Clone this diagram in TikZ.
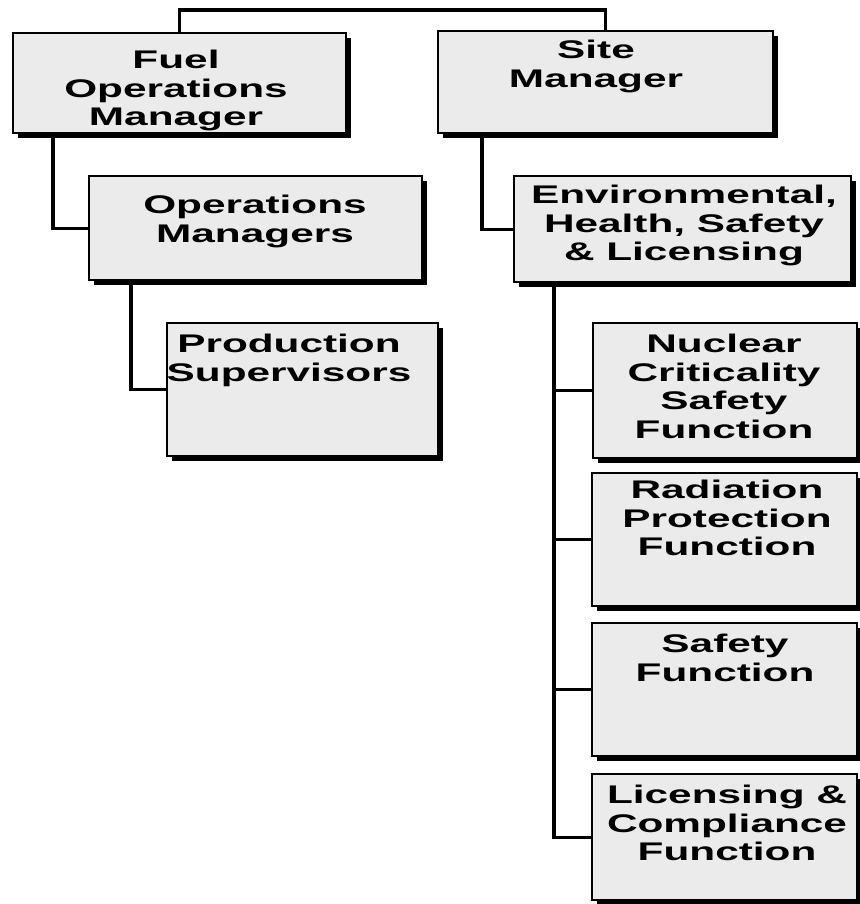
\documentclass[tikz,border=0pt]{standalone}
\usepackage{fontspec}
\newfontfamily\bx[FakeStretch=1.66]{Liberation Sans}
\usetikzlibrary{shadows,calc}
\begin{document}
\begin{tikzpicture}[x=1pt,y=-1pt,
  orgbox/.style={draw=black, line width=2.3pt, fill=black!8, rectangle, inner sep=0pt,
    anchor=north west,
    drop shadow={shadow xshift=4.5pt, shadow yshift=-4.5pt, fill=black, opacity=1}},
  lbl/.style={font=\bx\bfseries\fontsize{25.5}{28.5}\selectfont, align=center, inner sep=0pt, anchor=north},
  conn/.style={line width=3.2pt, line cap=rect}]
\useasboundingbox (0,0) rectangle (859,904);

% boxes
\node[orgbox, minimum width=333pt, minimum height=100pt] (fuel) at (12,32) {};
\node[orgbox, minimum width=335pt, minimum height=102pt] (site) at (437,30) {};
\node[orgbox, minimum width=333pt, minimum height=104pt] (om) at (88,175) {};
\node[orgbox, minimum width=271pt, minimum height=133pt] (prod) at (166,322) {};
\node[orgbox, minimum width=337pt, minimum height=106pt] (ehs) at (513,175) {};
\node[orgbox, minimum width=264pt, minimum height=135pt] (ncs) at (592,322) {};
\node[orgbox, minimum width=265pt, minimum height=133pt] (rad) at (591,472) {};
\node[orgbox, minimum width=265pt, minimum height=133pt] (saf) at (591,622) {};
\node[orgbox, minimum width=265pt, minimum height=126pt] (lic) at (591,773) {};

% texts
\node[lbl] (fuelT) at (176,50) {Fuel\\Operations\\Manager};
\node[lbl] (siteT) at (596,40) {Site\\Manager};
\node[lbl] (omT) at (255,195) {Operations\\Managers};
\node[lbl] (prodT) at (289,334) {Production\\Supervisors};
\node[lbl] (ehsT) at (684,185) {Environmental,\\Health, Safety\\\& Licensing};
\node[lbl] (ncsT) at (724,334) {Nuclear\\Criticality\\Safety\\Function};
\node[lbl] (radT) at (727,480) {Radiation\\Protection\\Function};
\node[lbl] (safT) at (725,634) {Safety\\Function};
\node[lbl] (licT) at (727,785) {Licensing \&\\Compliance\\Function};

% connectors
\coordinate (topbar) at (0,10);
\draw[conn] (fuel.north) -- (fuel.north |- topbar) -| (site.north);
\coordinate (fuelDrop) at ($(fuel.south west)+(41,0)$);
\draw[conn] (fuelDrop) |- (om.west);
\coordinate (omDrop) at ($(om.south west)+(43,0)$);
\draw[conn] (omDrop) |- (prod.west);
\coordinate (siteDrop) at ($(site.south west)+(45,0)$);
\draw[conn] (siteDrop) |- (ehs.west);
\coordinate (ehsDrop) at ($(ehs.south west)+(41,0)$);
\draw[conn] (ehsDrop) |- (lic.west);
\draw[conn] (ehsDrop |- ncs.west) -- (ncs.west);
\draw[conn] (ehsDrop |- rad.west) -- (rad.west);
\draw[conn] (ehsDrop |- saf.west) -- (saf.west);
\end{tikzpicture}
\end{document}
